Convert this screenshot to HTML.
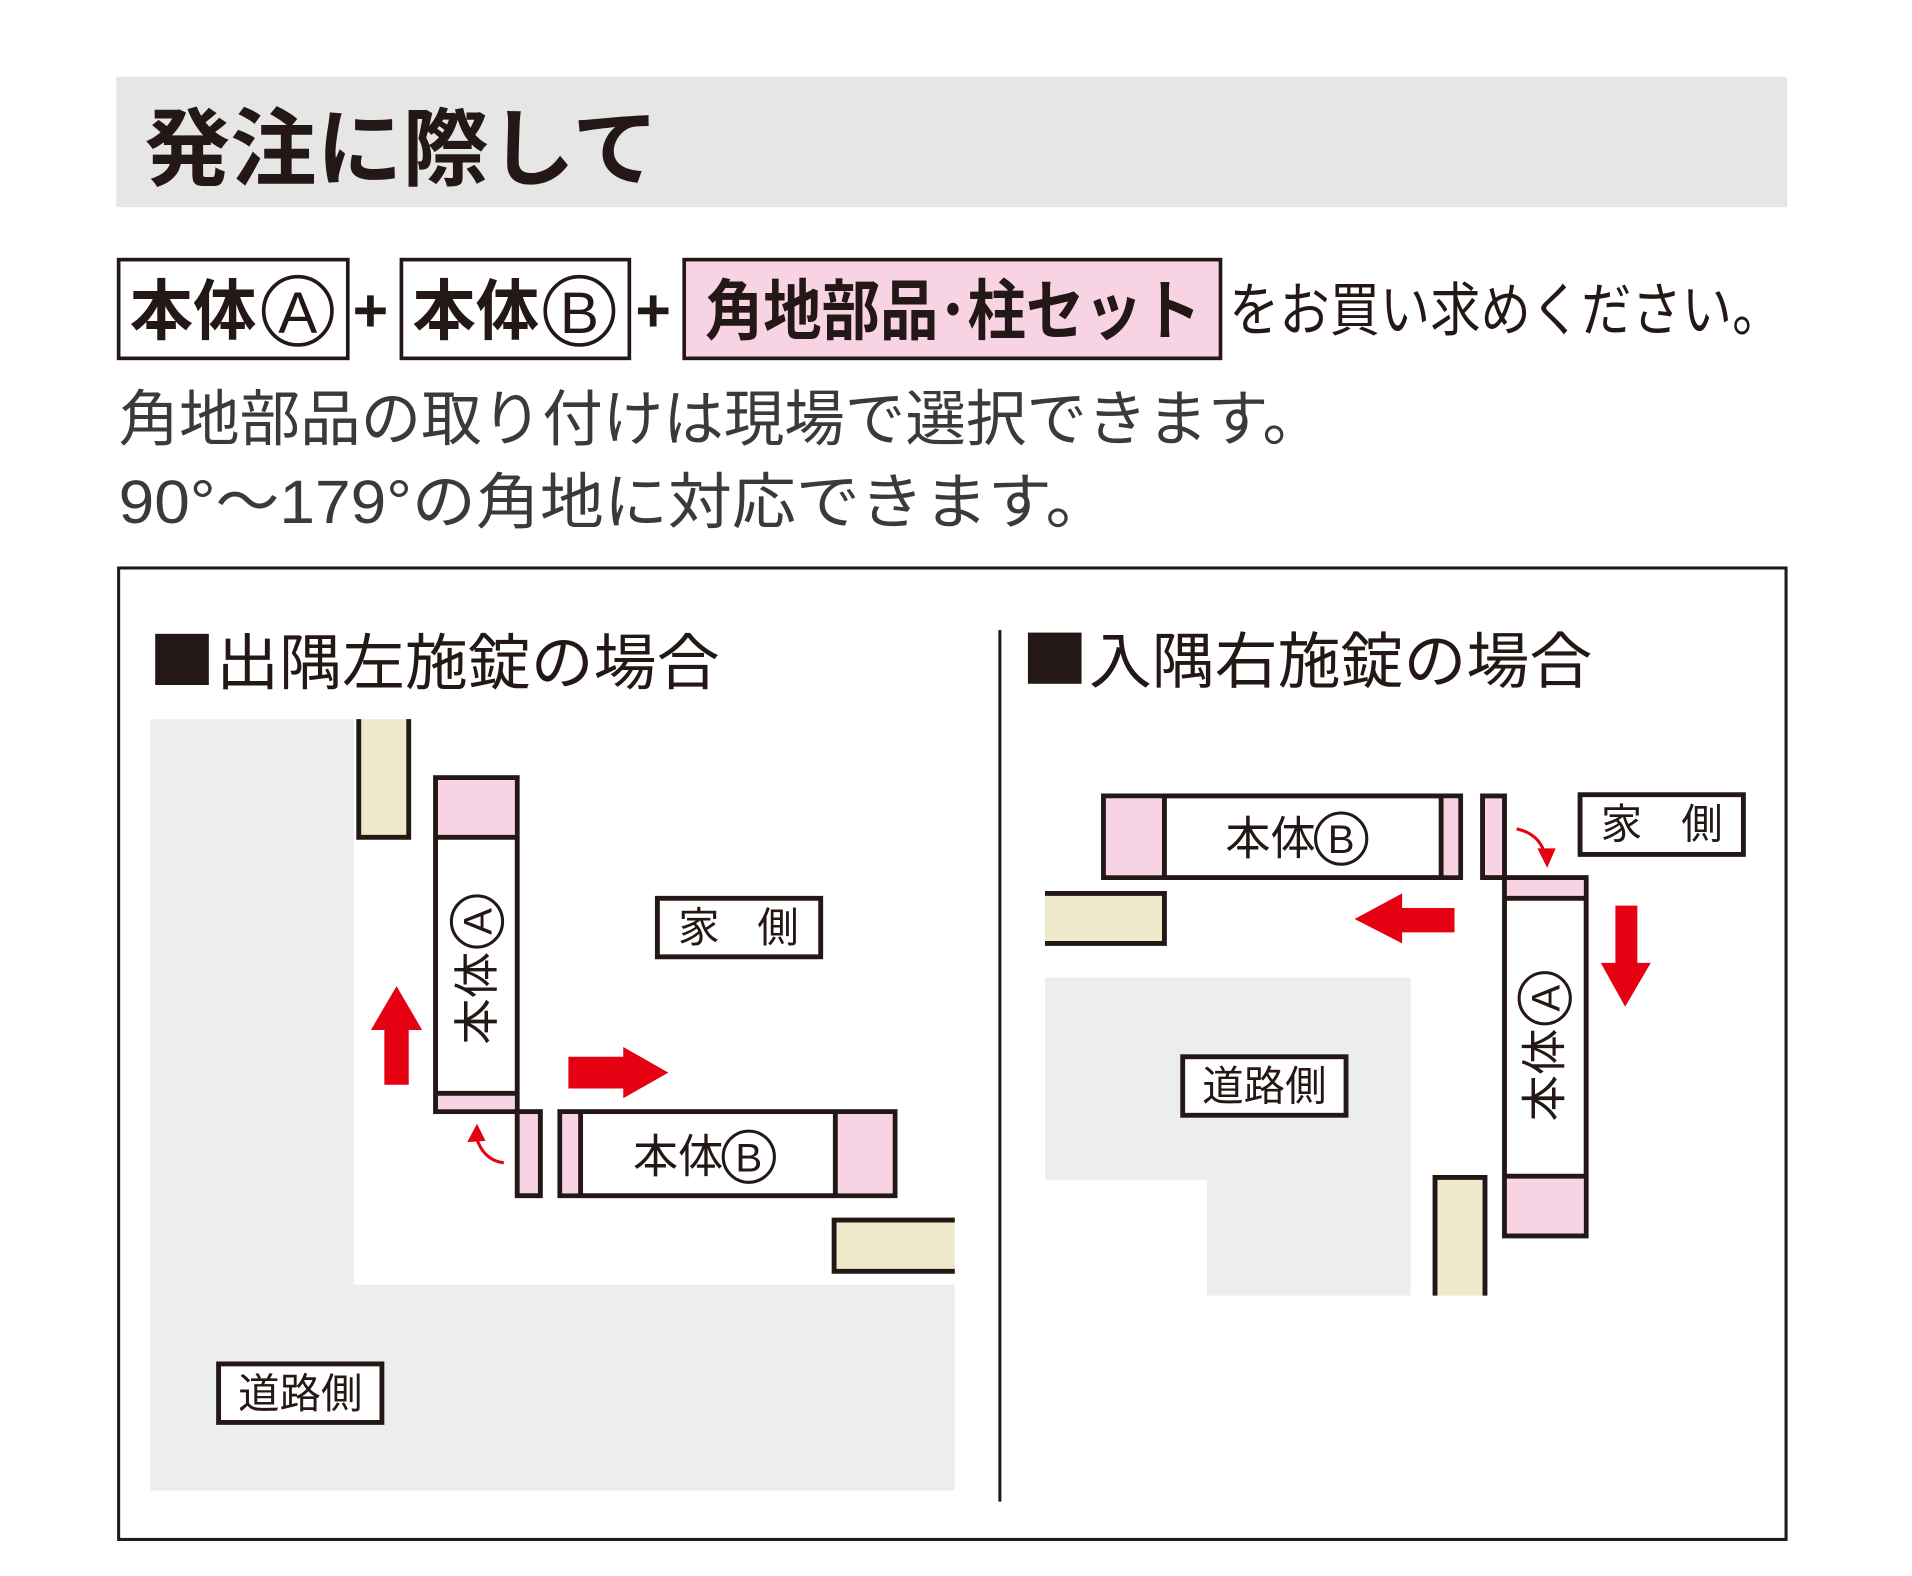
<!DOCTYPE html>
<html><head><meta charset="utf-8"><style>
html,body{margin:0;padding:0;background:#fff;width:1912px;height:1576px;overflow:hidden}
svg{display:block}
text{font-family:"Liberation Sans","Noto Sans CJK JP",sans-serif;fill:#231815}
</style></head><body>
<svg width="1912" height="1576" viewBox="0 0 1568 1293" xmlns="http://www.w3.org/2000/svg">
<rect x="95" y="63" width="1371" height="107" fill="#e6e6e6"/>
<text x="118" y="147" font-size="70" font-weight="700" textLength="422" lengthAdjust="spacingAndGlyphs">発注に際して</text>

<rect x="97" y="213" width="188" height="81" fill="#fff" stroke="#231815" stroke-width="3"/>
<text x="106" y="274" font-size="54" font-weight="700" textLength="104" lengthAdjust="spacingAndGlyphs">本体</text>
<circle cx="244" cy="255" r="28" fill="none" stroke="#231815" stroke-width="3"/>
<text x="244" y="273" text-anchor="middle" font-size="48">A</text>
<text x="289" y="272" font-size="50" font-weight="700">+</text>
<rect x="329" y="213" width="187" height="81" fill="#fff" stroke="#231815" stroke-width="3"/>
<text x="338" y="274" font-size="54" font-weight="700" textLength="104" lengthAdjust="spacingAndGlyphs">本体</text>
<circle cx="475" cy="255" r="28" fill="none" stroke="#231815" stroke-width="3"/>
<text x="475" y="273" text-anchor="middle" font-size="48">B</text>
<text x="521" y="272" font-size="50" font-weight="700">+</text>
<rect x="561" y="213" width="440" height="81" fill="#f8d3e3" stroke="#231815" stroke-width="3"/>
<text x="578" y="274" font-size="54" font-weight="700" textLength="407" lengthAdjust="spacingAndGlyphs">角地部品･柱セット</text>
<text x="1008" y="271" font-size="48" textLength="454" lengthAdjust="spacingAndGlyphs">をお買い求めください。</text>

<text x="97" y="361" font-size="50" style="fill:#3a3a3a" textLength="988" lengthAdjust="spacingAndGlyphs">角地部品の取り付けは現場で選択できます。</text>
<text x="97" y="429" font-size="50" style="fill:#3a3a3a" textLength="813" lengthAdjust="spacingAndGlyphs">90°〜179°の角地に対応できます。</text>

<rect x="97" y="466" width="1368" height="797" fill="#fff" stroke="#231815" stroke-width="2.5"/>
<line x1="820" y1="517" x2="820" y2="1232" stroke="#231815" stroke-width="2.5"/>
<rect x="127" y="520" width="44" height="42" fill="#231815"/>
<text x="177" y="561" font-size="50" textLength="413" lengthAdjust="spacingAndGlyphs">出隅左施錠の場合</text>
<rect x="843" y="519" width="44" height="42" fill="#231815"/>
<text x="893" y="560" font-size="50" textLength="413" lengthAdjust="spacingAndGlyphs">入隅右施錠の場合</text>

<!-- LEFT DIAGRAM -->
<polygon points="123,590 290,590 290,1054 783,1054 783,1223 123,1223" fill="#eceeed"/>
<path d="M294,590 V687 H335 V590" fill="#efe9cc" stroke="#231815" stroke-width="4"/>
<rect x="357" y="638" width="67" height="274" fill="#fff" stroke="#231815" stroke-width="4"/>
<rect x="359" y="640" width="63" height="46" fill="#f8d3e3"/>
<line x1="357" y1="687" x2="424" y2="687" stroke="#231815" stroke-width="4"/>
<rect x="359" y="898" width="63" height="12" fill="#f8d3e3"/>
<line x1="357" y1="897" x2="424" y2="897" stroke="#231815" stroke-width="4"/>
<rect x="424" y="912" width="19" height="69" fill="#f8d3e3" stroke="#231815" stroke-width="4"/>
<rect x="459" y="912" width="275" height="69" fill="#fff" stroke="#231815" stroke-width="4"/>
<rect x="461" y="914" width="14" height="65" fill="#f8d3e3"/>
<line x1="476" y1="912" x2="476" y2="981" stroke="#231815" stroke-width="4"/>
<rect x="685" y="914" width="47" height="65" fill="#f8d3e3"/>
<line x1="685" y1="912" x2="685" y2="981" stroke="#231815" stroke-width="4"/>
<path d="M783,1001 H684 V1043 H783" fill="#efe9cc" stroke="#231815" stroke-width="4"/>
<g transform="translate(391,795) rotate(-90)">
<text x="-62" y="13" font-size="38" textLength="76" lengthAdjust="spacingAndGlyphs">本体</text>
<circle cx="39" cy="0" r="21" fill="none" stroke="#231815" stroke-width="2.5"/>
<text x="39" y="12" text-anchor="middle" font-size="33">A</text>
</g>
<text x="519" y="962" font-size="38" textLength="74" lengthAdjust="spacingAndGlyphs">本体</text>
<circle cx="614" cy="949" r="21" fill="none" stroke="#231815" stroke-width="2.5"/>
<text x="614" y="961" text-anchor="middle" font-size="33">B</text>
<rect x="539" y="737" width="134" height="48" fill="#fff" stroke="#231815" stroke-width="4"/>
<text x="556" y="773" font-size="34">家</text><text x="621" y="773" font-size="34">側</text>
<polygon points="315,890 335,890 335,845 346,845 325,809 304,845 315,845" fill="#e50012"/>
<polygon points="466,867 511,867 511,859 548,880 511,901 511,893 466,893" fill="#e50012"/>
<path d="M413,954 Q396,952 390,932" fill="none" stroke="#e50012" stroke-width="2.5"/>
<polygon points="383,937 391,922 398,936" fill="#e50012"/>
<rect x="179" y="1119" width="134" height="48" fill="#fff" stroke="#231815" stroke-width="4"/>
<text x="246" y="1155" text-anchor="middle" font-size="34">道路側</text>

<!-- RIGHT DIAGRAM -->
<polygon points="857,802 1157,802 1157,1063 990,1063 990,968 857,968" fill="#eceeed"/>
<rect x="905" y="653" width="293" height="67" fill="#fff" stroke="#231815" stroke-width="4"/>
<rect x="907" y="655" width="47" height="63" fill="#f8d3e3"/>
<line x1="955" y1="653" x2="955" y2="720" stroke="#231815" stroke-width="4"/>
<rect x="1183" y="655" width="13" height="63" fill="#f8d3e3"/>
<line x1="1182" y1="653" x2="1182" y2="720" stroke="#231815" stroke-width="4"/>
<text x="1005" y="701" font-size="38" textLength="74" lengthAdjust="spacingAndGlyphs">本体</text>
<circle cx="1100" cy="688" r="21" fill="none" stroke="#231815" stroke-width="2.5"/>
<text x="1100" y="700" text-anchor="middle" font-size="33">B</text>
<rect x="1216" y="653" width="18" height="67" fill="#f8d3e3" stroke="#231815" stroke-width="4"/>
<path d="M857,733 H955 V774 H857" fill="#efe9cc" stroke="#231815" stroke-width="4"/>
<rect x="1234" y="720" width="67" height="294" fill="#fff" stroke="#231815" stroke-width="4"/>
<rect x="1236" y="722" width="63" height="14" fill="#f8d3e3"/>
<line x1="1234" y1="737" x2="1301" y2="737" stroke="#231815" stroke-width="4"/>
<rect x="1236" y="966" width="63" height="46" fill="#f8d3e3"/>
<line x1="1234" y1="965" x2="1301" y2="965" stroke="#231815" stroke-width="4"/>
<g transform="translate(1267,858) rotate(-90)">
<text x="-62" y="13" font-size="38" textLength="76" lengthAdjust="spacingAndGlyphs">本体</text>
<circle cx="39" cy="0" r="21" fill="none" stroke="#231815" stroke-width="2.5"/>
<text x="39" y="12" text-anchor="middle" font-size="33">A</text>
</g>
<path d="M1177,1063 V966 H1218 V1063" fill="#efe9cc" stroke="#231815" stroke-width="4"/>
<rect x="1296" y="652" width="134" height="49" fill="#fff" stroke="#231815" stroke-width="4"/>
<text x="1313" y="688" font-size="34">家</text><text x="1379" y="688" font-size="34">側</text>
<polygon points="1193,745 1150,745 1150,733 1111,754 1150,774 1150,765 1193,765" fill="#e50012"/>
<polygon points="1325,743 1343,743 1343,790 1354,790 1333,826 1313,790 1325,790" fill="#e50012"/>
<path d="M1244,680 Q1262,684 1267,700" fill="none" stroke="#e50012" stroke-width="2.5"/>
<polygon points="1261,696 1276,696 1269,712" fill="#e50012"/>
<rect x="970" y="867" width="134" height="48" fill="#fff" stroke="#231815" stroke-width="4"/>
<text x="1037" y="903" text-anchor="middle" font-size="34">道路側</text>
</svg>
</body></html>
